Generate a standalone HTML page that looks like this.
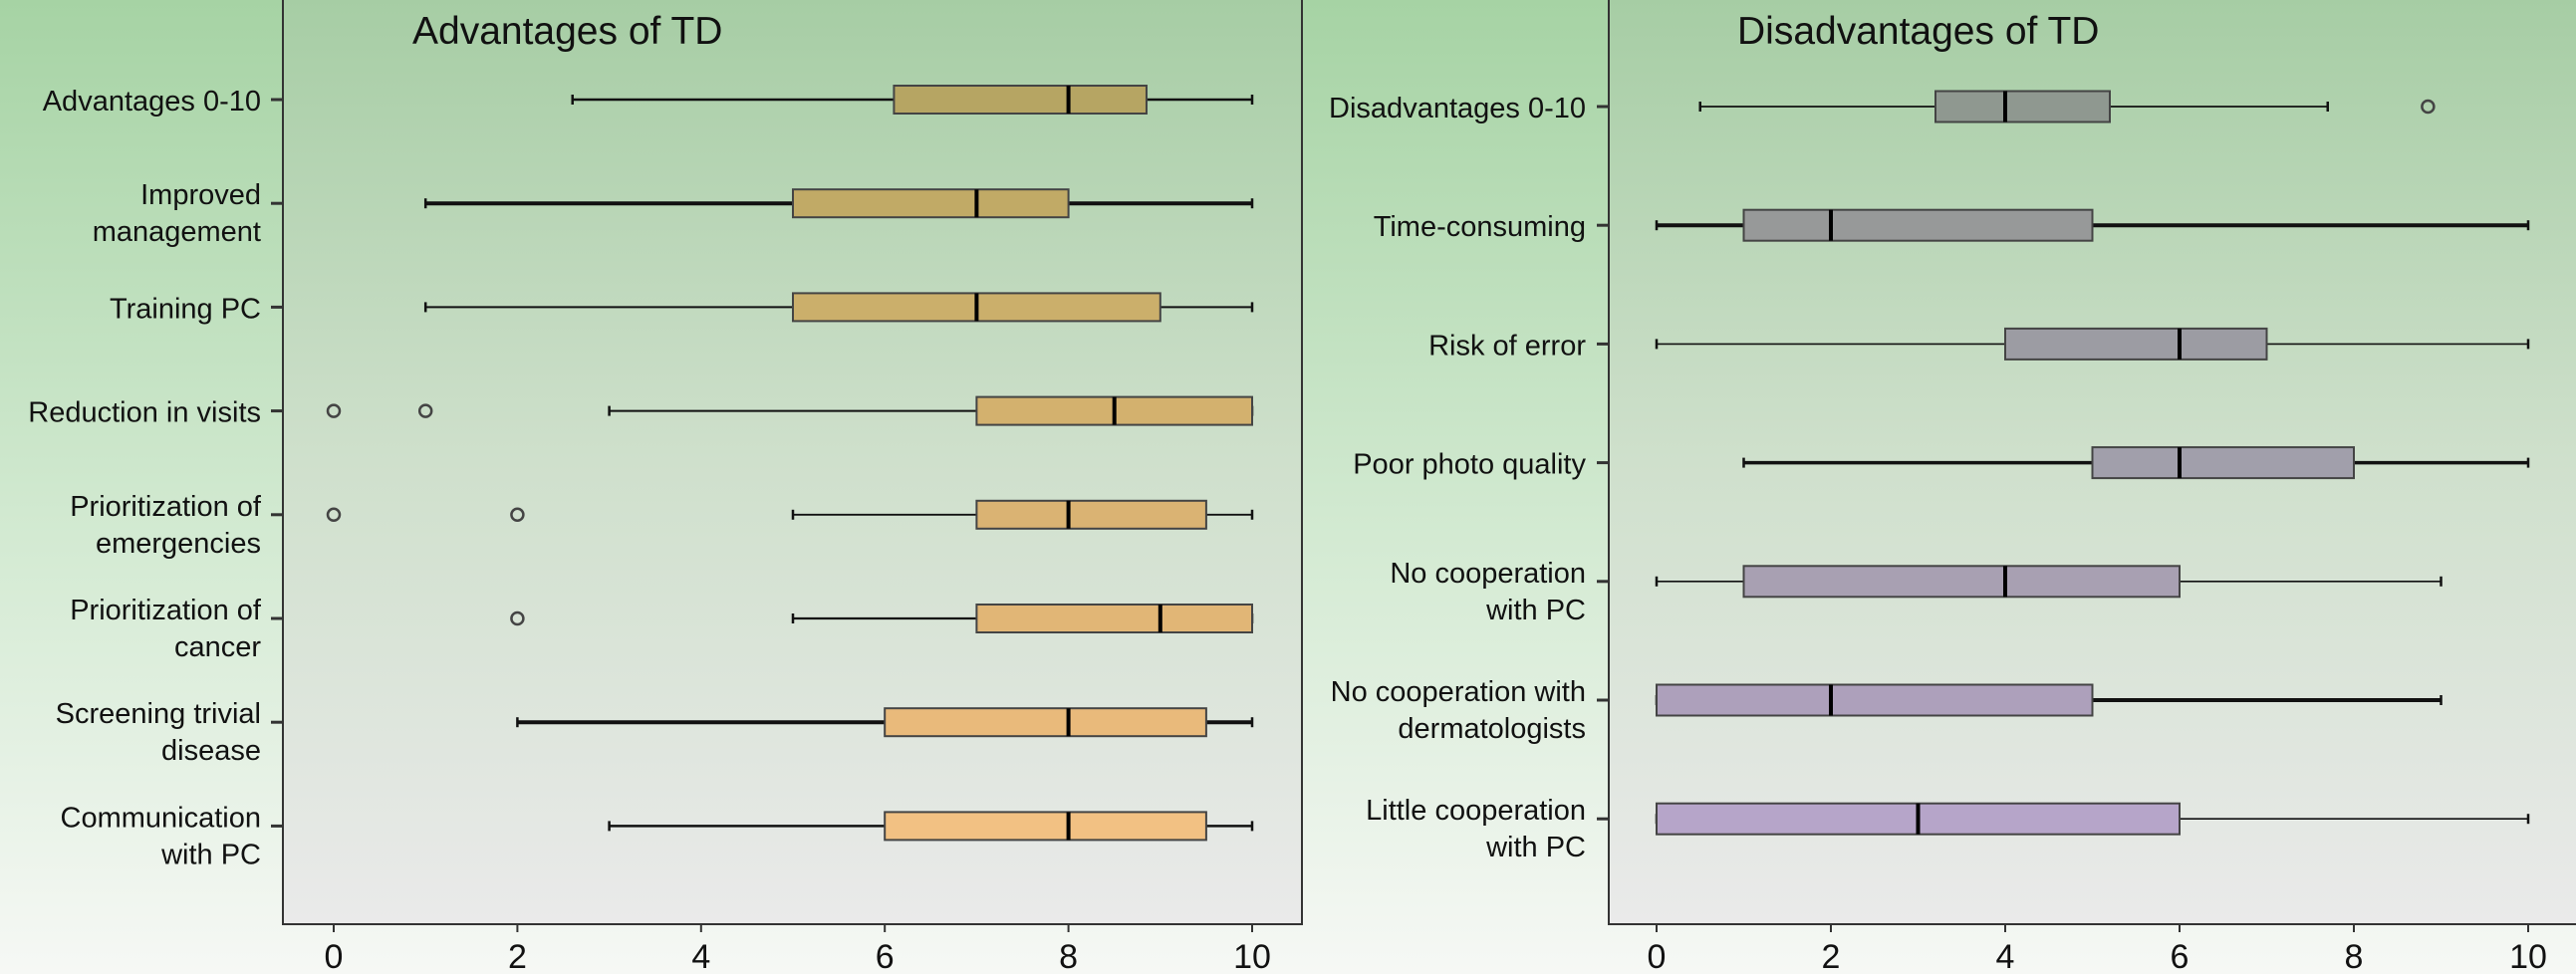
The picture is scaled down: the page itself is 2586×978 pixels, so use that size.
<!DOCTYPE html>
<html><head><meta charset="utf-8"><style>
html,body{margin:0;padding:0;width:2586px;height:978px;overflow:hidden}
svg{display:block}
text{font-family:"Liberation Sans",sans-serif;fill:#111}
</style></head><body>
<svg id="chart" width="2586" height="978" viewBox="0 0 2586 978">
<defs>
<linearGradient id="bg" x1="0" y1="0" x2="0" y2="1"><stop offset="0" stop-color="#a6d3a4"/><stop offset="0.55" stop-color="#d3ead2"/><stop offset="1" stop-color="#f6f8f5"/></linearGradient>
<linearGradient id="pg" x1="0" y1="0" x2="0" y2="1"><stop offset="0" stop-color="#a6cda4"/><stop offset="0.5" stop-color="#cfe0cc"/><stop offset="1" stop-color="#eaeaea"/></linearGradient>
</defs>
<rect width="2586" height="978" fill="url(#bg)"/>
<g id="left"></g>
<g id="right"></g>
</svg>
<script>
const advCategories=[["Advantages 0-10"],["Improved","management"],["Training PC"],["Reduction in visits"],["Prioritization of","emergencies"],["Prioritization of","cancer"],["Screening trivial","disease"],["Communication","with PC"]];
const advMin=[2.6,1,1,3,5,5,2,3];
const advQ1=[6.1,5,5,7,7,7,6,6];
const advMed=[8,7,7,8.5,8,9,8,8];
const advQ3=[8.85,8,9,10,9.5,10,9.5,9.5];
const advMax=[10,10,10,10,10,10,10,10];
const advOutliers=[[],[],[],[0,1],[0,2],[2],[],[]];
const advWidth=[2.5,4,2,2,1.8,2.2,4,2.5];
const advColors=["#b6a563","#c1aa66","#cbaf6b","#d3b16e","#dab373","#e1b676","#e9ba7b","#f2c183"];

const disCategories=[["Disadvantages 0-10"],["Time-consuming"],["Risk of error"],["Poor photo quality"],["No cooperation","with PC"],["No cooperation with","dermatologists"],["Little cooperation","with PC"]];
const disMin=[0.5,0,0,1,0,0,0];
const disQ1=[3.2,1,4,5,1,0,0];
const disMed=[4,2,6,6,4,2,3];
const disQ3=[5.2,5,7,8,6,5,6];
const disMax=[7.7,10,10,10,9,9,10];
const disOutliers=[[8.85],[],[],[],[],[],[]];
const disWidth=[1.8,4,1.6,3.5,1.6,4,1.6];
const disColors=["#8f9890","#979999","#9c9ca3","#a19fab","#a8a0b2","#ada0bb","#b6a5c9"];

const ticks=[0,2,4,6,8,10];
const NS="http://www.w3.org/2000/svg";
function mk(parent,tag,attrs){const e=document.createElementNS(NS,tag);for(const k in attrs)e.setAttribute(k,attrs[k]);parent.appendChild(e);return e;}

function panel(g,cfg){
  const xs=v=>cfg.x0+(cfg.x10-cfg.x0)*v/10;
  const ys=i=>cfg.yFirst+i*cfg.yStep;
  const fr=mk(g,'rect',{x:cfg.fl,y:-2,width:cfg.fr-cfg.fl,height:930,fill:'url(#pg)',stroke:'#333','stroke-width':2});
  
  
  const t=mk(g,'text',{x:cfg.tx,y:44,'font-size':39});
  t.textContent=cfg.title;
  
  
  ticks.forEach(v=>{
    const tk=mk(g,'line',{x1:xs(v),x2:xs(v),y1:928,y2:936,stroke:'#333','stroke-width':2});
    
    
    const tl=mk(g,'text',{x:xs(v),y:972,'font-size':34,'text-anchor':'middle'});
    tl.textContent=v;
    
    
  });
  cfg.cats.forEach((c,i)=>{
    const y=ys(i);
    const yt=mk(g,'line',{x1:cfg.fl-12,x2:cfg.fl,y1:y,y2:y,stroke:'#333','stroke-width':3});
    
    
    const lab=mk(g,'text',{x:cfg.lx,'font-size':29,'text-anchor':'end'});
    
    
    const y0=c.length===1?y+11:y+1;
    c.forEach((s,k)=>{const ts=mk(lab,'tspan',{x:cfg.lx,y:y0+k*37});ts.textContent=s;});
    const bg=mk(g,'g',{});
    
    
    const w=cfg.width[i];
    const wl=mk(bg,'line',{x1:xs(cfg.min[i]),x2:xs(cfg.q1[i]),y1:y,y2:y,stroke:'#111','stroke-width':w});
    
    
    const wh=mk(bg,'line',{x1:xs(cfg.q3[i]),x2:xs(cfg.max[i]),y1:y,y2:y,stroke:'#111','stroke-width':w});
    
    
    [cfg.min[i],cfg.max[i]].forEach(v=>{
      const cp=mk(bg,'line',{x1:xs(v),x2:xs(v),y1:y-5,y2:y+5,stroke:'#111','stroke-width':2.5});
      
      
    });
    const bx=mk(bg,'rect',{x:xs(cfg.q1[i]),y:y-cfg.bh/2,width:xs(cfg.q3[i])-xs(cfg.q1[i]),height:cfg.bh,fill:cfg.colors[i],stroke:'#444','stroke-width':2});
    
    
    const md=mk(bg,'line',{x1:xs(cfg.med[i]),x2:xs(cfg.med[i]),y1:y-cfg.bh/2,y2:y+cfg.bh/2,stroke:'#000','stroke-width':4});
    
    
    cfg.out[i].forEach(v=>{
      const o=mk(bg,'circle',{cx:xs(v),cy:y,r:6,fill:'none',stroke:'#444','stroke-width':2.5});
      
      
    });
  });
}
panel(document.getElementById('left'),{fl:284,fr:1307,x0:335,x10:1257,yFirst:100,yStep:104.2,bh:28,lx:262,tx:414,title:'Advantages of TD',
  cats:advCategories,min:advMin,q1:advQ1,med:advMed,q3:advQ3,max:advMax,out:advOutliers,width:advWidth,colors:advColors});
panel(document.getElementById('right'),{fl:1615,fr:2590,x0:1663,x10:2538,yFirst:107,yStep:119.2,bh:31,lx:1592,tx:1744,title:'Disadvantages of TD',
  cats:disCategories,min:disMin,q1:disQ1,med:disMed,q3:disQ3,max:disMax,out:disOutliers,width:disWidth,colors:disColors});
</script>
</body></html>
